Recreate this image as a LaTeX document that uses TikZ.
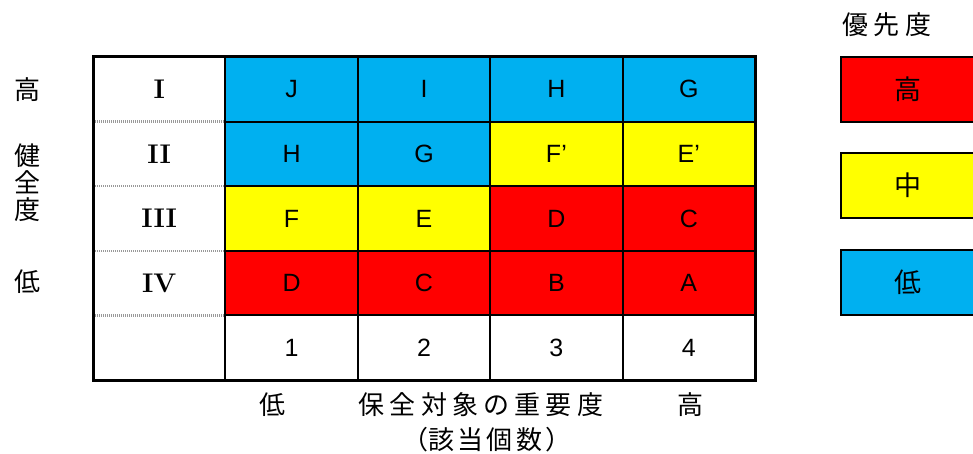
\documentclass[tikz,border=0pt]{standalone}
\usepackage{fontspec}
\newfontfamily\jpfont{Noto Sans CJK JP}
\newfontfamily\arialfont{Liberation Sans}
\usetikzlibrary{positioning}
\definecolor{prioRed}{HTML}{FF0000}
\definecolor{prioYellow}{HTML}{FFFF00}
\definecolor{prioBlue}{HTML}{00B0F0}
\tikzstyle{cell} = [rectangle, draw, line width=2pt, inner sep=0pt, minimum width=132.4pt, minimum height=64.6pt, font=\arialfont\fontsize{25}{25}\selectfont]
\tikzstyle{rank} = [rectangle, inner sep=0pt, minimum width=132.4pt, minimum height=64.6pt, font=\bfseries\fontsize{27}{27}\selectfont]
\tikzstyle{jplabel} = [inner sep=0pt, font=\jpfont\fontsize{26}{26}\selectfont]
\tikzstyle{legend} = [cell, minimum width=135pt, font=\jpfont\fontsize{27}{27}\selectfont]

\begin{document}
\begin{tikzpicture}[x=1pt, y=-1pt]
                \clip (0,0) rectangle (973,454);
                \fill[white] (0,0) rectangle (973,454);

                % health rank column
                \node (r1) [rank] at (159.2,89.3) {I};
                \node (r2) [rank] at (159.2,153.9) {II};
                \node (r3) [rank] at (159.2,218.5) {III};
                \node (r4) [rank] at (159.2,283.1) {IV};
                \node (r5) [rank] at (159.2,347.7) {};
                \foreach \y in {121.6,186.2,250.8,315.4}
                    \draw[gray!80, line width=2.2pt, dash pattern=on 1.2pt off 0.8pt] (93,\y) -- (225.4,\y);

                % row I
                \node (c11) [cell, fill=prioBlue] at (291.6,89.3) {J};
                \node (c12) [cell, fill=prioBlue] at (424,89.3) {I};
                \node (c13) [cell, fill=prioBlue] at (556.4,89.3) {H};
                \node (c14) [cell, fill=prioBlue] at (688.8,89.3) {G};
                % row II
                \node (c21) [cell, fill=prioBlue] at (291.6,153.9) {H};
                \node (c22) [cell, fill=prioBlue] at (424,153.9) {G};
                \node (c23) [cell, fill=prioYellow] at (556.4,153.9) {F’};
                \node (c24) [cell, fill=prioYellow] at (688.8,153.9) {E’};
                % row III
                \node (c31) [cell, fill=prioYellow] at (291.6,218.5) {F};
                \node (c32) [cell, fill=prioYellow] at (424,218.5) {E};
                \node (c33) [cell, fill=prioRed] at (556.4,218.5) {D};
                \node (c34) [cell, fill=prioRed] at (688.8,218.5) {C};
                % row IV
                \node (c41) [cell, fill=prioRed] at (291.6,283.1) {D};
                \node (c42) [cell, fill=prioRed] at (424,283.1) {C};
                \node (c43) [cell, fill=prioRed] at (556.4,283.1) {B};
                \node (c44) [cell, fill=prioRed] at (688.8,283.1) {A};
                % count row
                \node (n1) [cell, fill=white] at (291.6,347.7) {1};
                \node (n2) [cell, fill=white] at (424,347.7) {2};
                \node (n3) [cell, fill=white] at (556.4,347.7) {3};
                \node (n4) [cell, fill=white] at (688.8,347.7) {4};

                \draw[line width=3pt] (93,57) rectangle (755,380);

                % axis labels
                \node (hiY) [jplabel] at (27,90) {高};
                \node (health) [jplabel, align=center] at (27,183) {健\\[1pt]全\\[1pt]度};
                \node (loY) [jplabel] at (27,282) {低};
                \node (loX) [jplabel] at (272,405) {低};
                \node (importance) [jplabel] at (481,405) {\addfontfeature{LetterSpace=20}保全対象の重要度};
                \node (hiX) [jplabel] at (690,405) {高};
                \node (count) [jplabel] at (487,440) {（\addfontfeature{LetterSpace=12}該当個数）};

                % legend
                \node (prio) [jplabel] at (887,25) {\addfontfeature{LetterSpace=20}優先度};
                \node (lHigh) [legend, fill=prioRed] at (908,89.5) {高};
                \node (lMid) [legend, fill=prioYellow] at (908,185.5) {中};
                \node (lLow) [legend, fill=prioBlue] at (908,282.5) {低};
            \end{tikzpicture}
\end{document}
